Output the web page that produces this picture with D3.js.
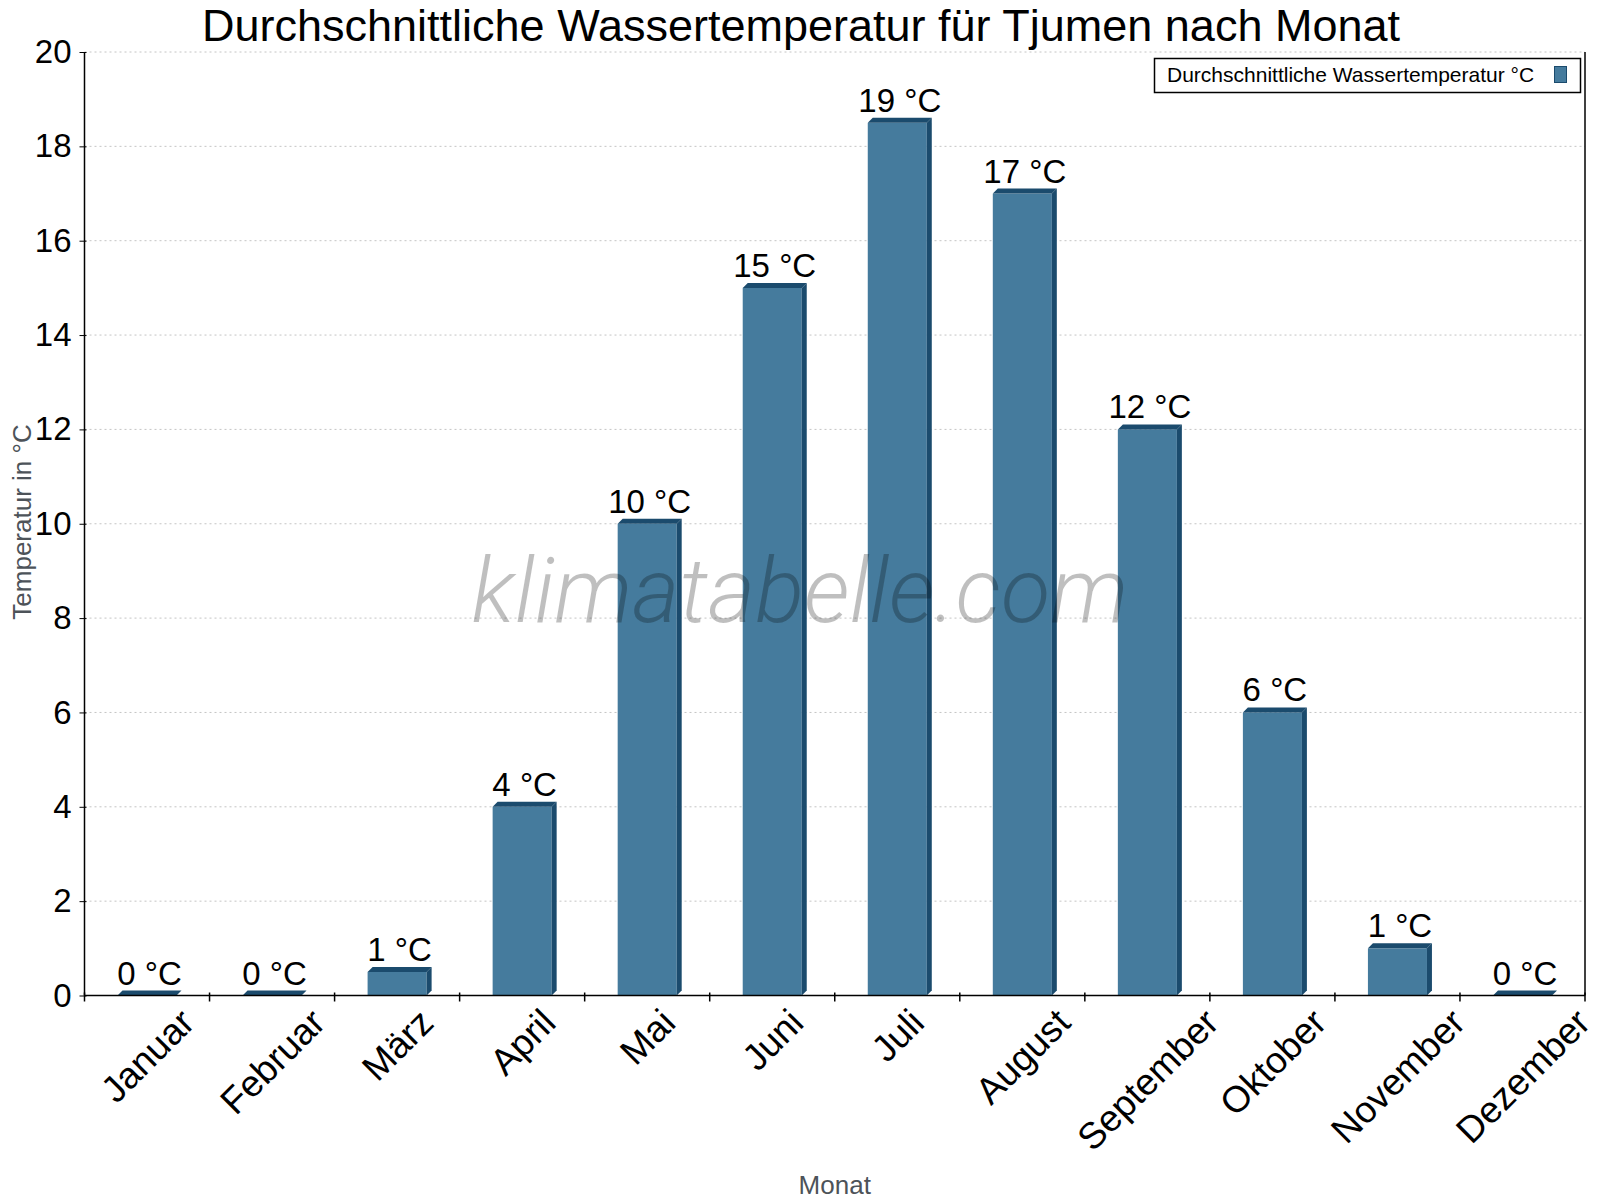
<!DOCTYPE html>
<html>
<head>
<meta charset="utf-8">
<script src="https://cdn.jsdelivr.net/npm/d3@7"></script>
<style>
  body { margin: 0; background: #fff; }
  svg text { font-family: "Liberation Sans", Arial, sans-serif; }
</style>
</head>
<body>
<div id="chart"></div>
<script>
var months = ['Januar', 'Februar', 'März', 'April', 'Mai', 'Juni', 'Juli',
              'August', 'September', 'Oktober', 'November', 'Dezember'],
    water_temp = [0, 0, 0.5, 4, 10, 15, 18.5, 17, 12, 6, 1, 0],
    y_ticks = [0, 2, 4, 6, 8, 10, 12, 14, 16, 18, 20];

var title_text = 'Durchschnittliche Wassertemperatur für Tjumen nach Monat',
    legend_text = 'Durchschnittliche Wassertemperatur °C',
    y_title = 'Temperatur in °C',
    x_title = 'Monat',
    watermark = 'klimatabelle.com';

var w = 1600,
    h = 1200,
    plot_left = 84.5,
    plot_right = 1585,
    plot_top = 52,
    plot_bottom = 995.5,
    depth = 5,
    front_color = '#457b9d',
    dark_color = '#1b4b6d',
    axis_grey = '#4d5359';

var svg = d3.select('#chart').append('svg')
    .attr('width', w)
    .attr('height', h);

var x = d3.scaleBand().domain(months).range([plot_left, plot_right]).padding(0),
    y = d3.scaleLinear().domain([0, 20]).range([plot_bottom, plot_top]);

var bar_w = x.bandwidth() * 0.472;

// gridlines
svg.append('g').selectAll('line')
    .data(y_ticks.filter(function(d){ return d > 0; }))
  .enter().append('line')
    .attr('x1', plot_left).attr('x2', plot_right)
    .attr('y1', function(d){ return y(d); })
    .attr('y2', function(d){ return y(d); })
    .attr('stroke', '#c4c4c4')
    .attr('stroke-width', 1)
    .attr('stroke-dasharray', '2,3');

// bars, drawn as a front face, a top face and a right side face
var bars = svg.append('g').selectAll('g')
    .data(water_temp)
  .enter().append('g');

function x0(d, i) { return x(months[i]) + x.bandwidth() / 2 - bar_w / 2; }

bars.append('rect')
    .attr('x', x0)
    .attr('y', function(d){ return y(d); })
    .attr('width', bar_w)
    .attr('height', function(d){ return plot_bottom - y(d); })
    .attr('fill', front_color);

bars.append('path')
    .attr('d', function(d, i) {
        var a = x0(d, i), t = y(d);
        return 'M' + a + ',' + t + 'L' + (a + depth) + ',' + (t - depth) +
               'L' + (a + bar_w + depth) + ',' + (t - depth) + 'L' + (a + bar_w) + ',' + t + 'Z';
    })
    .attr('fill', dark_color);

bars.append('path')
    .attr('d', function(d, i) {
        var a = x0(d, i) + bar_w, t = y(d);
        return 'M' + a + ',' + t + 'L' + (a + depth) + ',' + (t - depth) +
               'L' + (a + depth) + ',' + (plot_bottom - depth) + 'L' + a + ',' + plot_bottom + 'Z';
    })
    .attr('fill', dark_color);

bars.append('text')
    .attr('x', function(d, i){ return x0(d, i) + (bar_w + depth) / 2; })
    .attr('y', function(d){ return y(d) - depth - 6; })
    .attr('text-anchor', 'middle')
    .style('font-size', '33px')
    .attr('fill', '#000')
    .text(function(d){ return Math.round(d) + ' °C'; });

// watermark over the bars (fit to its width in the picture)
var wm = svg.append('text')
    .attr('x', 800)
    .attr('y', 622)
    .attr('text-anchor', 'middle')
    .style('font-family', 'Roboto, sans-serif')
    .style('font-style', 'italic')
    .style('font-weight', 300)
    .style('font-size', '90px')
    .attr('fill', '#000')
    .attr('fill-opacity', 0.25)
    .text(watermark);
var wm_len = wm.node().getComputedTextLength();
wm.style('font-size', (90 * 657 / wm_len) + 'px');

// y axis
var y_axis = svg.append('g')
    .attr('transform', 'translate(' + plot_left + ',0)')
    .call(d3.axisLeft(y).tickValues(y_ticks).tickSizeInner(5).tickSizeOuter(0).tickPadding(8));
y_axis.select('.domain').remove();
y_axis.selectAll('.tick line').attr('x2', -5).attr('x1', 2).attr('stroke', '#000');
y_axis.selectAll('.tick text')
    .style('font-family', '"Liberation Sans", Arial, sans-serif')
    .style('font-size', '33px')
    .attr('fill', '#000');

// axis frame
svg.append('line').attr('x1', plot_left).attr('x2', plot_left).attr('y1', plot_top).attr('y2', plot_bottom)
    .attr('stroke', '#000').attr('stroke-width', 1.5);
svg.append('line').attr('x1', plot_right).attr('x2', plot_right).attr('y1', plot_top).attr('y2', plot_bottom)
    .attr('stroke', '#000').attr('stroke-width', 1.5);
svg.append('line').attr('x1', plot_left).attr('x2', plot_right).attr('y1', plot_bottom).attr('y2', plot_bottom)
    .attr('stroke', '#000').attr('stroke-width', 1.5);

// x ticks at the band edges
svg.append('g').selectAll('line')
    .data(months.map(function(m){ return x(m); }).concat([plot_right]))
  .enter().append('line')
    .attr('x1', function(d){ return d; })
    .attr('x2', function(d){ return d; })
    .attr('y1', plot_bottom - 3)
    .attr('y2', plot_bottom + 6)
    .attr('stroke', '#000')
    .attr('stroke-width', 1.5);

// x labels, rotated, their box centred under the bar
var label_fs = 37,
    cap_h = label_fs * 0.72,
    label_top = 1006;
svg.append('g').selectAll('text')
    .data(months)
  .enter().append('text')
    .attr('text-anchor', 'end')
    .style('font-size', label_fs + 'px')
    .attr('fill', '#000')
    .text(function(d){ return d; })
    .attr('transform', function(d) {
        var len = this.getComputedTextLength(),
            px = x(d) + x.bandwidth() / 2 + 0.7071 * (len + cap_h) / 2,
            py = label_top + 0.7071 * cap_h;
        return 'translate(' + px + ',' + py + ') rotate(-45)';
    });

// axis titles
svg.append('text')
    .attr('transform', 'translate(31,522) rotate(-90)')
    .attr('text-anchor', 'middle')
    .style('font-size', '26px')
    .attr('fill', axis_grey)
    .text(y_title);

svg.append('text')
    .attr('x', (plot_left + plot_right) / 2)
    .attr('y', 1194)
    .attr('text-anchor', 'middle')
    .style('font-size', '26px')
    .attr('fill', axis_grey)
    .text(x_title);

// title
svg.append('text')
    .attr('x', 801)
    .attr('y', 41)
    .attr('text-anchor', 'middle')
    .style('font-size', '45px')
    .attr('fill', '#000')
    .text(title_text);

// legend
var legend = svg.append('g');
legend.append('rect')
    .attr('x', 1154.5).attr('y', 58.5)
    .attr('width', 426).attr('height', 34)
    .attr('fill', '#fff')
    .attr('stroke', '#000')
    .attr('stroke-width', 1.5);
legend.append('text')
    .attr('x', 1167)
    .attr('y', 82)
    .style('font-size', '21px')
    .attr('fill', '#000')
    .text(legend_text);
legend.append('rect')
    .attr('x', 1554.5).attr('y', 66.5)
    .attr('width', 12).attr('height', 16)
    .attr('fill', front_color)
    .attr('stroke', dark_color)
    .attr('stroke-width', 1);
</script>
</body>
</html>
